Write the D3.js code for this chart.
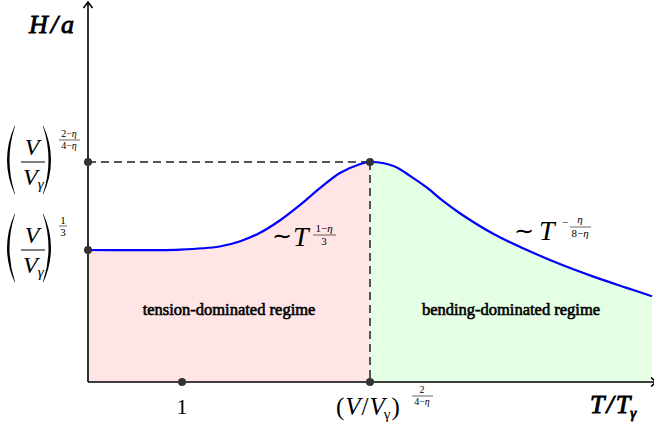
<!DOCTYPE html>
<html>
<head>
<meta charset="utf-8">
<script src="https://cdn.jsdelivr.net/npm/d3@7"></script>
<style>
  html, body { margin: 0; padding: 0; background: #fff; }
  svg { display: block; }
  text { font-family: "Liberation Serif", "Times New Roman", serif; fill: #000; }
</style>
</head>
<body>
<svg id="chart" width="654" height="427"></svg>
<script>
// Crossover curve H/a versus T/T_gamma (schematic units)
const curveX = [0, 0.98, 1.40, 1.62, 1.83, 2.04, 2.26, 2.47, 2.68, 2.89, 3.0,
                3.25, 3.43, 3.61, 3.78, 3.96, 4.31, 4.67, 5.02, 5.37, 5.73, 6.0];
const curveY = [3.0, 3.01, 3.08, 3.20, 3.39, 3.67, 4.03, 4.41, 4.75, 4.95, 5.0,
                4.91, 4.68, 4.41, 4.11, 3.83, 3.37, 3.00, 2.68, 2.40, 2.14, 1.95];
const crossoverX = 3.0;   // (V/V_gamma)^{2/(4-eta)}
const unitX = 1.0;        // T = T_gamma
const plateauY = 3.0;     // (V/V_gamma)^{1/3}
const peakY = 5.0;        // (V/V_gamma)^{(2-eta)/(4-eta)}
const regimeLabels = ["tension-dominated regime", "bending-dominated regime"];

const svg = d3.select("#chart");
const x = d3.scaleLinear().domain([0, 6]).range([88, 652]);
const y = d3.scaleLinear().domain([0, 8.5]).range([382, 8]);

const pts = curveX.map((v, i) => ({ x: v, y: curveY[i] }));
const left = pts.filter(d => d.x <= crossoverX);
const right = pts.filter(d => d.x >= crossoverX);

const smooth = d3.curveCatmullRom.alpha(0.5);
const area = d3.area().curve(smooth)
  .x(d => x(d.x)).y0(y(0)).y1(d => y(d.y));
const line = d3.line().curve(smooth)
  .x(d => x(d.x)).y(d => y(d.y));

// regime fills
svg.append("path").datum(left).attr("d", area).attr("fill", "#ffe5e5");
svg.append("path").datum(right).attr("d", area).attr("fill", "#e5ffe5");

// bold weight is drawn with a fine outline so the serif face is kept
function boldify(t, w = 0.6) {
  return t.attr("stroke", "#000").attr("stroke-width", w).attr("paint-order", "stroke");
}

// regime labels
boldify(svg.append("text").attr("x", x(crossoverX / 2)).attr("y", 315)
  .attr("text-anchor", "middle").attr("font-size", 16.5)
  .text(regimeLabels[0]), 0.6);
boldify(svg.append("text").attr("x", x((crossoverX + 6) / 2)).attr("y", 315)
  .attr("text-anchor", "middle").attr("font-size", 16.5)
  .text(regimeLabels[1]), 0.6);

// guide lines
const dash = { stroke: "#555", "stroke-width": 2, "stroke-dasharray": "8,5" };
const hl = svg.append("line").attr("x1", x(0)).attr("x2", x(crossoverX))
  .attr("y1", y(peakY)).attr("y2", y(peakY));
const vl = svg.append("line").attr("x1", x(crossoverX)).attr("x2", x(crossoverX))
  .attr("y1", y(peakY)).attr("y2", y(0));
for (const [k, v] of Object.entries(dash)) { hl.attr(k, v); vl.attr(k, v); }

// curve
svg.append("path").datum(pts).attr("d", line)
  .attr("fill", "none").attr("stroke", "#0000ff").attr("stroke-width", 2.2);

// axes
svg.append("g").attr("transform", `translate(0,${y(0)})`)
  .call(d3.axisBottom(x).tickValues([]).tickSizeOuter(0))
  .call(g => g.select(".domain").attr("stroke-width", 1.6)
    .attr("d", `M${x(0)},0H656`));
svg.append("g").attr("transform", `translate(${x(0)},0)`)
  .call(d3.axisLeft(y).tickValues([]).tickSizeOuter(0))
  .call(g => g.select(".domain").attr("stroke-width", 1.6)
    .attr("d", `M0,${y(0)}V2`));
// arrow heads
svg.append("path").attr("d", `M${x(0) - 4.5},${8} L${x(0)},2 L${x(0) + 4.5},${8}`)
  .attr("fill", "none").attr("stroke", "#000").attr("stroke-width", 1.6);
svg.append("path").attr("d", `M651,${y(0) - 4.5} L656,${y(0)} L651,${y(0) + 4.5}`)
  .attr("fill", "none").attr("stroke", "#000").attr("stroke-width", 1.6);

// marked points
const marks = [[0, peakY], [0, plateauY], [crossoverX, peakY], [unitX, 0], [crossoverX, 0]];
svg.selectAll("circle.mark").data(marks).join("circle").attr("class", "mark")
  .attr("cx", d => x(d[0])).attr("cy", d => y(d[1])).attr("r", 4)
  .attr("fill", "#333");

// ---- math-style labels ----
function txt(px, py, s, size, opts = {}) {
  const t = svg.append("text").attr("x", px).attr("y", py)
    .attr("font-size", size).attr("text-anchor", opts.anchor || "start");
  if (opts.italic) t.attr("font-style", "italic");
  if (opts.bold) boldify(t, 0.9);
  t.text(s);
  return t;
}
function rule(x1, x2, yy, w = 0.6) {
  svg.append("line").attr("x1", x1).attr("x2", x2).attr("y1", yy).attr("y2", yy)
    .attr("stroke", "#000").attr("stroke-width", w);
}
function paren(xl, top, bot, dir) {
  // thin parenthesis drawn as a crescent
  const mid = (top + bot) / 2, w = 11;
  const xe = dir > 0 ? xl + w : xl;
  const co = dir > 0 ? xl - 5 : xl + w + 5;
  const ci = dir > 0 ? xl + 0 : xl + w;
  svg.append("path")
    .attr("d", `M${xe},${top} Q${co},${mid} ${xe},${bot} L${xe},${bot - 1.2} Q${ci},${mid} ${xe},${top + 1.2} Z`)
    .attr("fill", "#000");
}
function bigRatio(barY) {
  paren(4, barY - 37, barY + 33, 1);
  paren(43, barY - 37, barY + 33, -1);
  txt(32, barY - 7, "V", 24, { anchor: "middle", italic: true });
  rule(21, 45, barY, 1);
  const t = txt(23, barY + 23, "V", 24, { italic: true });
  t.append("tspan").attr("font-size", 15).attr("dy", 4).attr("dx", 0).text("γ");
}
function exponentPart(t, s) {
  // "a−η" style: η set in italic
  const parts = s.split("η");
  t.text(parts[0]);
  if (parts.length > 1) t.append("tspan").attr("font-style", "italic").text("η");
  return t;
}

// y labels
bigRatio(y(peakY));
exponentPart(txt(69, 137, "", 10, { anchor: "middle" }), "2−η");
rule(59, 80, 140);
exponentPart(txt(69, 149, "", 10, { anchor: "middle" }), "4−η");

bigRatio(y(plateauY));
txt(63, 224, "1", 11, { anchor: "middle" });
rule(59, 67, 226);
txt(63, 236, "3", 11, { anchor: "middle" });

// axis titles
const ha = txt(29, 33, "H", 26, { italic: true, bold: true });
ha.append("tspan").attr("dx", 3).text("/");
ha.append("tspan").attr("dx", 3).text("a");
const tt = txt(590, 413, "T", 26, { italic: true, bold: true });
tt.append("tspan").attr("dx", 2).text("/");
tt.append("tspan").attr("dx", 2).text("T");
tt.append("tspan").attr("font-size", 15).attr("dy", 5).text("γ");

// x tick labels
txt(x(unitX), 414, "1", 22, { anchor: "middle" });
const vv = txt(336, 415, "(", 25);
vv.append("tspan").attr("font-style", "italic").attr("dx", 1).text("V");
vv.append("tspan").attr("dx", 1).text("/");
vv.append("tspan").attr("font-style", "italic").attr("dx", 1).text("V");
vv.append("tspan").attr("font-size", 15).attr("dy", 4).attr("dx", -1).text("γ");
vv.append("tspan").attr("dy", -4).attr("dx", 1).text(")");
txt(422, 393, "2", 10, { anchor: "middle" });
rule(412, 433, 396);
exponentPart(txt(422, 405, "", 10, { anchor: "middle" }), "4−η");

// scaling annotations
txt(272, 244, "∼", 24);
txt(293, 246, "T", 28, { italic: true });
exponentPart(txt(324, 232, "", 11, { anchor: "middle" }), "1−η");
rule(313, 336, 235);
txt(324, 245, "3", 11, { anchor: "middle" });

txt(514, 239, "∼", 24);
txt(539, 240, "T", 28, { italic: true });
txt(565, 226, "−", 11, { anchor: "middle" });
txt(580, 223, "η", 11, { anchor: "middle", italic: true });
rule(570, 591, 227);
exponentPart(txt(580, 237, "", 11, { anchor: "middle" }), "8−η");
</script>
</body>
</html>
